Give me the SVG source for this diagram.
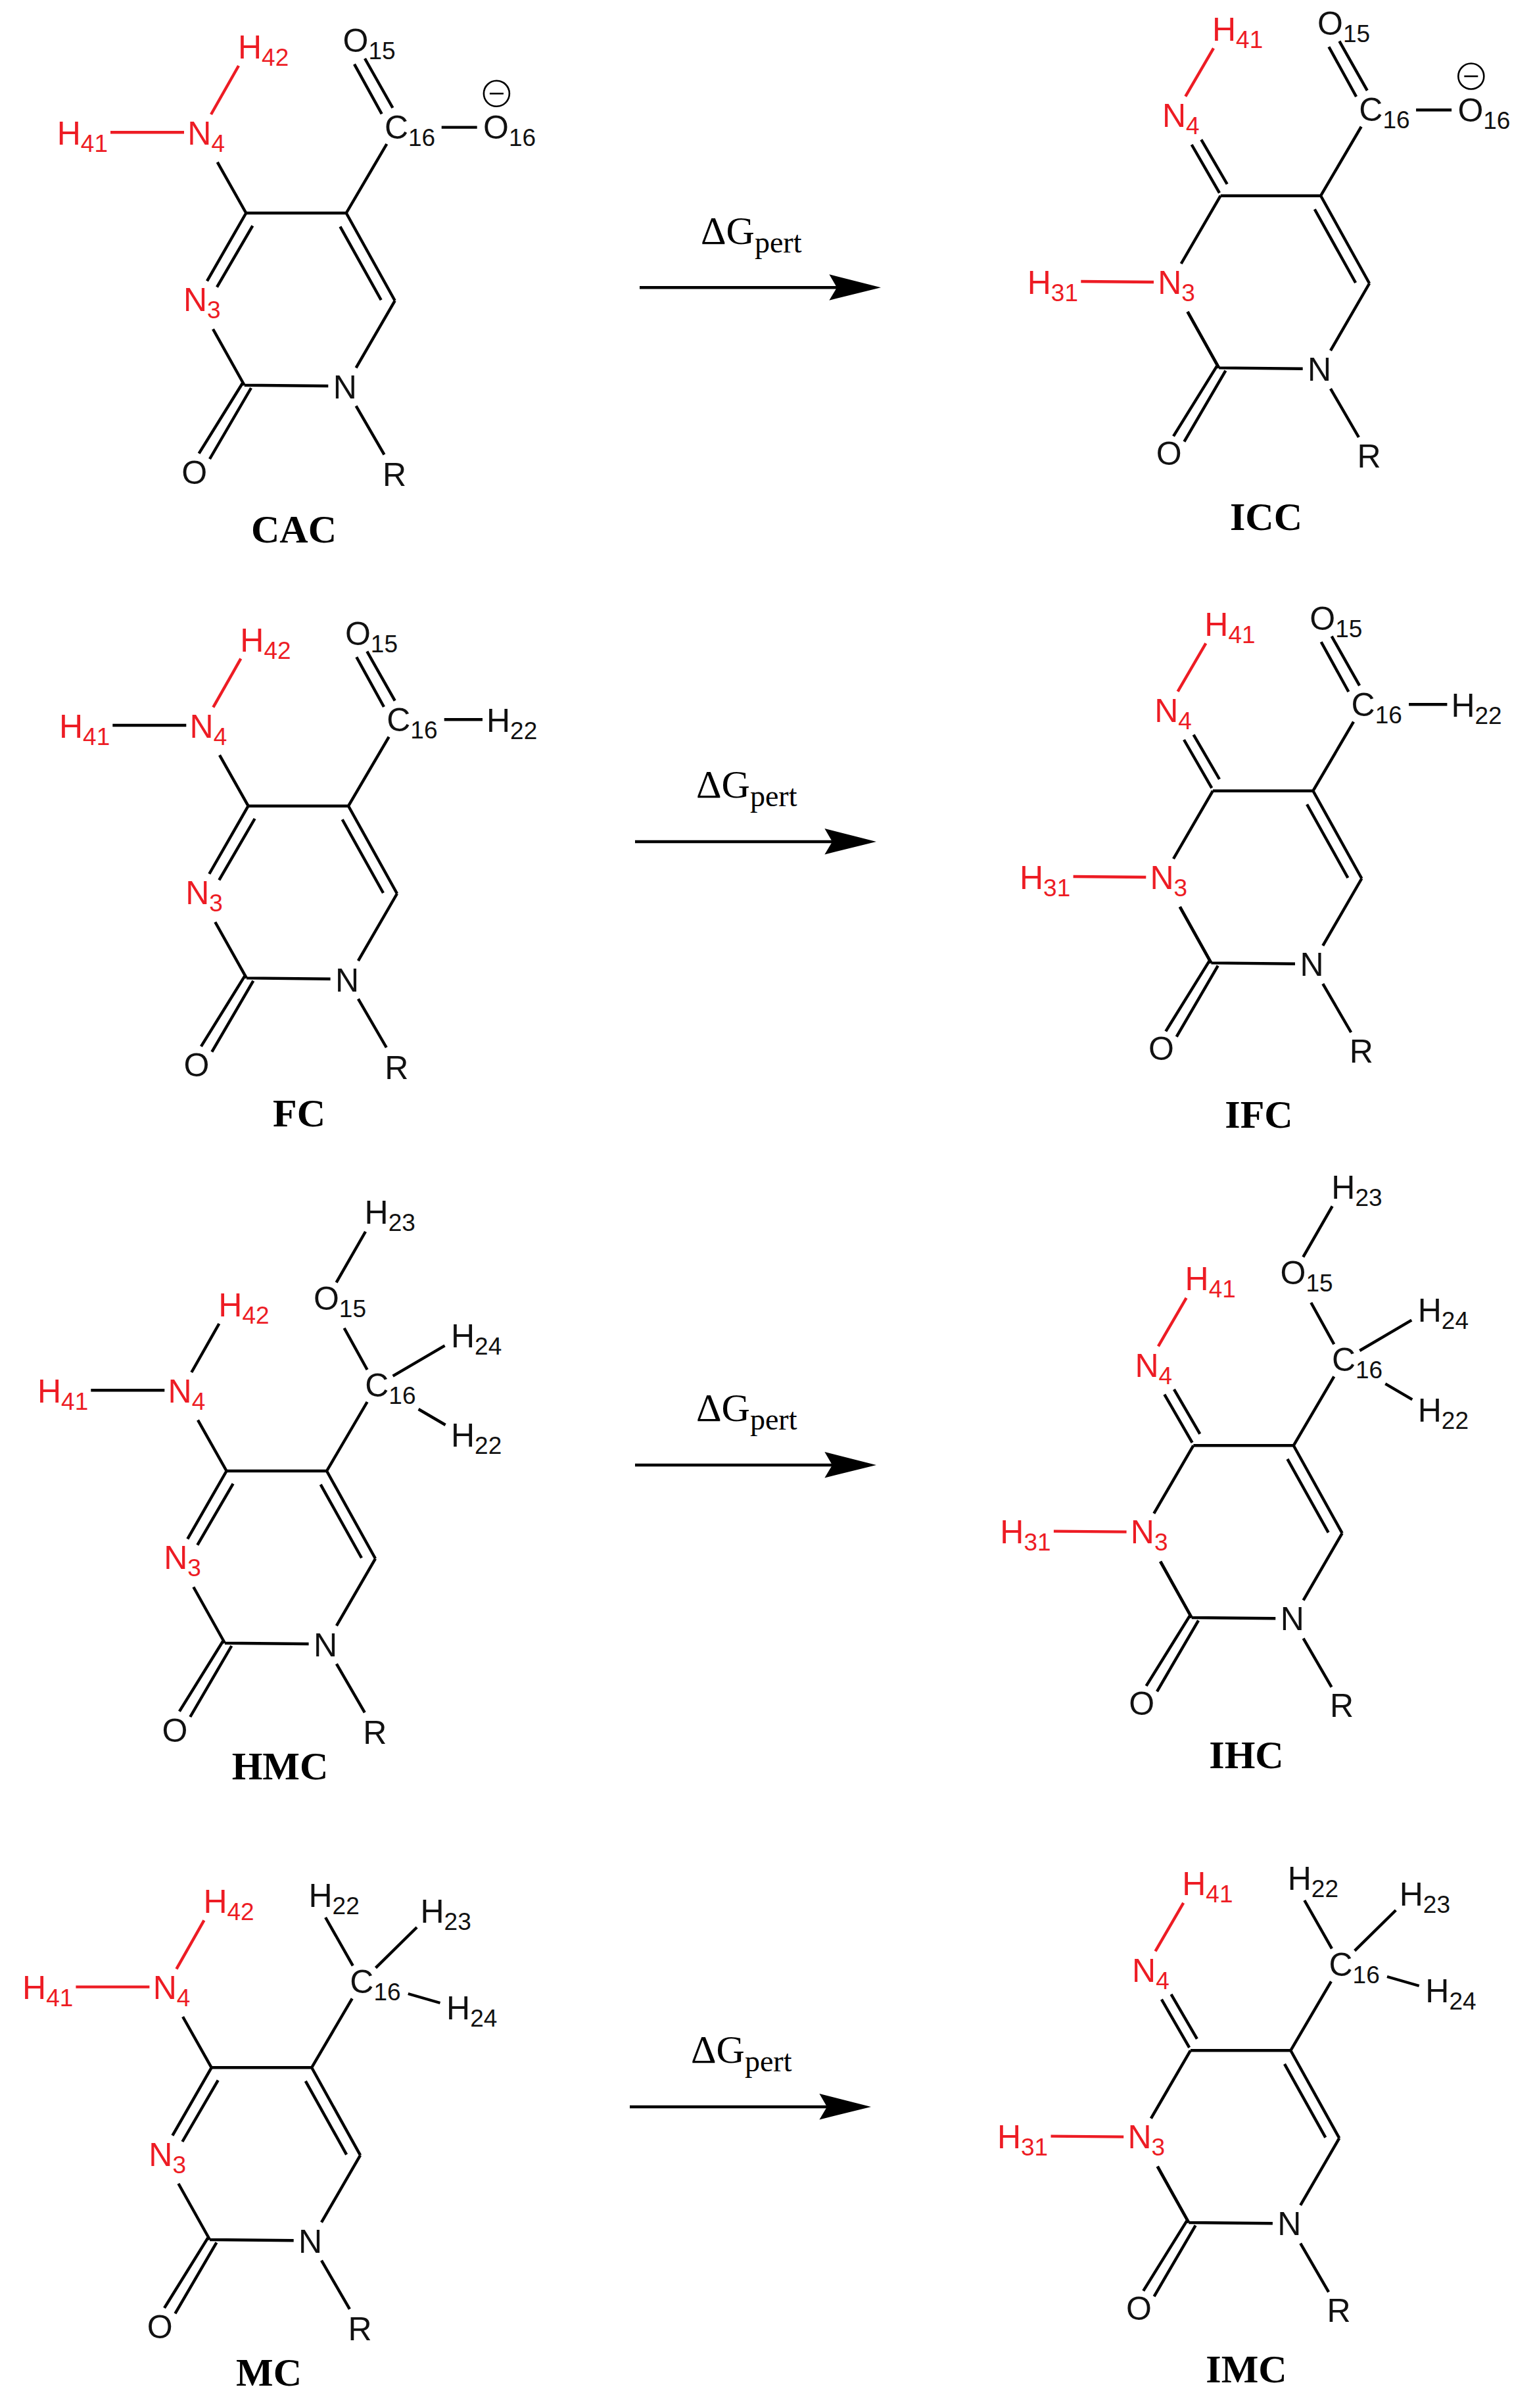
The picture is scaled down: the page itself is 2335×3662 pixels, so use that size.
<svg xmlns="http://www.w3.org/2000/svg" xmlns:xlink="http://www.w3.org/1999/xlink" width="2335" height="3662" viewBox="0 0 2335 3662">
<style>
.b{fill:none;stroke:#000;stroke-width:4.4}
.r{fill:none;stroke:#ed1c24;stroke-width:4.4}
.a{font-family:"Liberation Sans",Arial,sans-serif;font-size:50px;fill:#111}
.ra{fill:#ed1c24}
.a tspan{font-size:37px}
.name{font-family:"Liberation Serif","Times New Roman",serif;font-size:60px;font-weight:bold;text-anchor:middle;fill:#000}
.dg{font-family:"Liberation Serif","Times New Roman",serif;font-size:60px;fill:#000}
.dg tspan{font-size:46px}
</style>
<defs>
<path id="ring" class="b" d="M0 0H152.4M152.4 0L226.4 133.3M143.1 20.6L205.4 132.3M226.4 133.3L167.3 235.4M-2.6 261.7L125 263M167.3 293.4L210.2 367.3M-4.3 257L-71.7 365.6M7.7 266L-55.3 374M-50.3 176.5L-2.6 261.7M152.4 0L214 -105"/>
<path id="amineRing" class="b" d="M-43.6 -77.3L0 0M0 0L-59.3 103.3M10 19.3L-44.3 112.7"/>
<path id="imineRing" class="b" d="M-1.7 -4.4L-44 -77.7M10 -17.7L-29.4 -85.4M0 0L-60 103.3"/>
<path id="carbonyl" class="b" d="M164.7 -226.4L206.4 -150.7M180.7 -235L223.1 -160"/>
<path id="hydroxymethyl" class="b" d="M211.4 -364L167 -286.6M179 -217.3L214 -154M253 -144.3L332 -190.6M292 -94L333 -70"/>
<path id="methyl" class="b" d="M173.4 -228.3L215.1 -155M312.4 -213.3L249.8 -151.7M299.1 -112.3L347.8 -98.3"/>
<path id="arrowhead" d="M367 0L288.4 -20L300 0L288.4 19.4Z" fill="#000"/>
</defs>

<g id="CAC" transform="translate(374.3 324)">
<g class="connectors"><use href="#ring"/><use href="#amineRing"/><use href="#carbonyl"/>
<path class="r" d="M-206.3 -122.7H-94.3M-11.3 -224L-53.3 -150"/><path class="b" d="M297.4 -130.4H351.4"/></g>
<text class="a ra" x="-287.6" y="-104">H<tspan dy="11">41</tspan></text>
<text class="a ra" x="-12.3" y="-235">H<tspan dy="11">42</tspan></text>
<text class="a ra" x="-89" y="-104">N<tspan dy="11">4</tspan></text>
<text class="a ra" x="-95.4" y="149.3">N<tspan dy="11">3</tspan></text>
<text class="a" x="132.4" y="282">N</text>
<text class="a" x="207.7" y="415">R</text>
<text class="a" x="-98" y="411.5">O</text>
<text class="a" x="210.6" y="-113.3">C<tspan dy="11">16</tspan></text>
<text class="a" x="147.3" y="-244.6">O<tspan dy="11">15</tspan></text>
<text class="a" x="360.7" y="-112.7">O<tspan dy="11">16</tspan></text>
<circle class="b" style="stroke-width:2.6" cx="381.1" cy="-181.7" r="19.5"/><path class="b" style="stroke-width:2.6" d="M370.6 -181.7H391.6"/>
</g>
<text id="label-CAC" class="name" x="447" y="825">CAC</text>

<g id="ICC" transform="translate(1856.7 297.7)">
<g class="connectors"><use href="#ring"/><use href="#imineRing"/><use href="#carbonyl"/>
<path class="r" d="M-212.4 130.3L-101.7 131.3M-10.7 -224.4L-53.4 -151"/><path class="b" d="M-50 176.3L-2.6 261.7M297.4 -130.4H351.4"/></g>
<text class="a ra" x="-294" y="149">H<tspan dy="11">31</tspan></text>
<text class="a ra" x="-12.7" y="-236">H<tspan dy="11">41</tspan></text>
<text class="a ra" x="-88.8" y="-104.4">N<tspan dy="11">4</tspan></text>
<text class="a ra" x="-95.5" y="149">N<tspan dy="11">3</tspan></text>
<text class="a" x="132.4" y="281">N</text>
<text class="a" x="207.7" y="413">R</text>
<text class="a" x="-98" y="409.5">O</text>
<text class="a" x="210.6" y="-113.3">C<tspan dy="11">16</tspan></text>
<text class="a" x="147.3" y="-244.6">O<tspan dy="11">15</tspan></text>
<text class="a" x="360.7" y="-112.7">O<tspan dy="11">16</tspan></text>
<circle class="b" style="stroke-width:2.6" cx="381.1" cy="-181.7" r="19.5"/><path class="b" style="stroke-width:2.6" d="M370.6 -181.7H391.6"/>
</g>
<text id="label-ICC" class="name" x="1926" y="806">ICC</text>

<g id="FC" transform="translate(377.6 1225.7)">
<g class="connectors"><use href="#ring"/><use href="#amineRing"/><use href="#carbonyl"/>
<path class="b" d="M-206.3 -122.7H-94.3"/><path class="r" d="M-11.3 -224L-53.3 -150"/><path class="b" d="M298.1 -131.4H356.4"/></g>
<text class="a ra" x="-287.6" y="-104">H<tspan dy="11">41</tspan></text>
<text class="a ra" x="-12.3" y="-235">H<tspan dy="11">42</tspan></text>
<text class="a ra" x="-89" y="-104">N<tspan dy="11">4</tspan></text>
<text class="a ra" x="-95.4" y="149.3">N<tspan dy="11">3</tspan></text>
<text class="a" x="132.4" y="282">N</text>
<text class="a" x="207.7" y="415">R</text>
<text class="a" x="-98" y="411.5">O</text>
<text class="a" x="210.6" y="-113.3">C<tspan dy="11">16</tspan></text>
<text class="a" x="147.3" y="-244.6">O<tspan dy="11">15</tspan></text>
<text class="a" x="362.4" y="-113">H<tspan dy="11">22</tspan></text>
</g>
<text id="label-FC" class="name" x="455" y="1713">FC</text>

<g id="IFC" transform="translate(1845 1202.7)">
<g class="connectors"><use href="#ring"/><use href="#imineRing"/><use href="#carbonyl"/>
<path class="r" d="M-212.4 130.3L-101.7 131.3M-10.7 -224.4L-53.4 -151"/><path class="b" d="M-50 176.3L-2.6 261.7M298.1 -131.4H356.4"/></g>
<text class="a ra" x="-294" y="149">H<tspan dy="11">31</tspan></text>
<text class="a ra" x="-12.7" y="-236">H<tspan dy="11">41</tspan></text>
<text class="a ra" x="-88.8" y="-104.4">N<tspan dy="11">4</tspan></text>
<text class="a ra" x="-95.5" y="149">N<tspan dy="11">3</tspan></text>
<text class="a" x="132.4" y="281">N</text>
<text class="a" x="207.7" y="413">R</text>
<text class="a" x="-98" y="409.5">O</text>
<text class="a" x="210.6" y="-113.3">C<tspan dy="11">16</tspan></text>
<text class="a" x="147.3" y="-244.6">O<tspan dy="11">15</tspan></text>
<text class="a" x="362.4" y="-113">H<tspan dy="11">22</tspan></text>
</g>
<text id="label-IFC" class="name" x="1915" y="1715">IFC</text>

<g id="HMC" transform="translate(344.6 2237)">
<g class="connectors"><use href="#ring"/><use href="#amineRing"/><use href="#hydroxymethyl"/>
<path class="b" d="M-206.3 -122.7H-94.3M-11.3 -224L-53.3 -150"/></g>
<text class="a ra" x="-287.6" y="-104">H<tspan dy="11">41</tspan></text>
<text class="a ra" x="-12.3" y="-235">H<tspan dy="11">42</tspan></text>
<text class="a ra" x="-89" y="-104">N<tspan dy="11">4</tspan></text>
<text class="a ra" x="-95.4" y="149.3">N<tspan dy="11">3</tspan></text>
<text class="a" x="132.4" y="282">N</text>
<text class="a" x="207.7" y="415">R</text>
<text class="a" x="-98" y="411.5">O</text>
<text class="a" x="210.6" y="-113.3">C<tspan dy="11">16</tspan></text>
<text class="a" x="210" y="-375.6">H<tspan dy="11">23</tspan></text>
<text class="a" x="132.3" y="-245">O<tspan dy="11">15</tspan></text>
<text class="a" x="341.4" y="-188.3">H<tspan dy="11">24</tspan></text>
<text class="a" x="341.4" y="-36.6">H<tspan dy="11">22</tspan></text>
</g>
<text id="label-HMC" class="name" x="426" y="2706">HMC</text>

<g id="IHC" transform="translate(1815.3 2198.3)">
<g class="connectors"><use href="#ring"/><use href="#imineRing"/><use href="#hydroxymethyl"/>
<path class="r" d="M-212.4 130.3L-101.7 131.3M-10.7 -224.4L-53.4 -151"/><path class="b" d="M-50 176.3L-2.6 261.7"/></g>
<text class="a ra" x="-294" y="149">H<tspan dy="11">31</tspan></text>
<text class="a ra" x="-12.7" y="-236">H<tspan dy="11">41</tspan></text>
<text class="a ra" x="-88.8" y="-104.4">N<tspan dy="11">4</tspan></text>
<text class="a ra" x="-95.5" y="149">N<tspan dy="11">3</tspan></text>
<text class="a" x="132.4" y="281">N</text>
<text class="a" x="207.7" y="413">R</text>
<text class="a" x="-98" y="409.5">O</text>
<text class="a" x="210.6" y="-113.3">C<tspan dy="11">16</tspan></text>
<text class="a" x="210" y="-375.6">H<tspan dy="11">23</tspan></text>
<text class="a" x="132.3" y="-245">O<tspan dy="11">15</tspan></text>
<text class="a" x="341.4" y="-188.3">H<tspan dy="11">24</tspan></text>
<text class="a" x="341.4" y="-36.6">H<tspan dy="11">22</tspan></text>
</g>
<text id="label-IHC" class="name" x="1896" y="2689">IHC</text>

<g id="MC" transform="translate(321.7 3144.3)">
<g class="connectors"><use href="#ring"/><use href="#amineRing"/><use href="#methyl"/>
<path class="r" d="M-206.3 -122.7H-94.3M-11.3 -224L-53.3 -150"/></g>
<text class="a ra" x="-287.6" y="-104">H<tspan dy="11">41</tspan></text>
<text class="a ra" x="-12.3" y="-235">H<tspan dy="11">42</tspan></text>
<text class="a ra" x="-89" y="-104">N<tspan dy="11">4</tspan></text>
<text class="a ra" x="-95.4" y="149.3">N<tspan dy="11">3</tspan></text>
<text class="a" x="132.4" y="282">N</text>
<text class="a" x="207.7" y="415">R</text>
<text class="a" x="-98" y="411.5">O</text>
<text class="a" x="210.6" y="-113.3">C<tspan dy="11">16</tspan></text>
<text class="a" x="147.8" y="-244.3">H<tspan dy="11">22</tspan></text>
<text class="a" x="317.8" y="-220">H<tspan dy="11">23</tspan></text>
<text class="a" x="357.4" y="-73.3">H<tspan dy="11">24</tspan></text>
</g>
<text id="label-MC" class="name" x="409" y="3628">MC</text>

<g id="IMC" transform="translate(1810.9 3118.3)">
<g class="connectors"><use href="#ring"/><use href="#imineRing"/><use href="#methyl"/>
<path class="r" d="M-212.4 130.3L-101.7 131.3M-10.7 -224.4L-53.4 -151"/><path class="b" d="M-50 176.3L-2.6 261.7"/></g>
<text class="a ra" x="-294" y="149">H<tspan dy="11">31</tspan></text>
<text class="a ra" x="-12.7" y="-236">H<tspan dy="11">41</tspan></text>
<text class="a ra" x="-88.8" y="-104.4">N<tspan dy="11">4</tspan></text>
<text class="a ra" x="-95.5" y="149">N<tspan dy="11">3</tspan></text>
<text class="a" x="132.4" y="281">N</text>
<text class="a" x="207.7" y="413">R</text>
<text class="a" x="-98" y="409.5">O</text>
<text class="a" x="210.6" y="-113.3">C<tspan dy="11">16</tspan></text>
<text class="a" x="147.8" y="-244.3">H<tspan dy="11">22</tspan></text>
<text class="a" x="317.8" y="-220">H<tspan dy="11">23</tspan></text>
<text class="a" x="357.4" y="-73.3">H<tspan dy="11">24</tspan></text>
</g>
<text id="label-IMC" class="name" x="1896" y="3623">IMC</text>

<g id="reactions">
<g id="reaction-1" transform="translate(973 437.3)"><path class="b" d="M0 0H300"/><use href="#arrowhead"/><text class="dg" x="93" y="-66.6">ΔG<tspan dy="13">pert</tspan></text></g>
<g id="reaction-2" transform="translate(966 1280)"><path class="b" d="M0 0H300"/><use href="#arrowhead"/><text class="dg" x="93" y="-66.6">ΔG<tspan dy="13">pert</tspan></text></g>
<g id="reaction-3" transform="translate(966 2228)"><path class="b" d="M0 0H300"/><use href="#arrowhead"/><text class="dg" x="93" y="-66.6">ΔG<tspan dy="13">pert</tspan></text></g>
<g id="reaction-4" transform="translate(958 3204)"><path class="b" d="M0 0H300"/><use href="#arrowhead"/><text class="dg" x="93" y="-66.6">ΔG<tspan dy="13">pert</tspan></text></g>
</g>
</svg>
